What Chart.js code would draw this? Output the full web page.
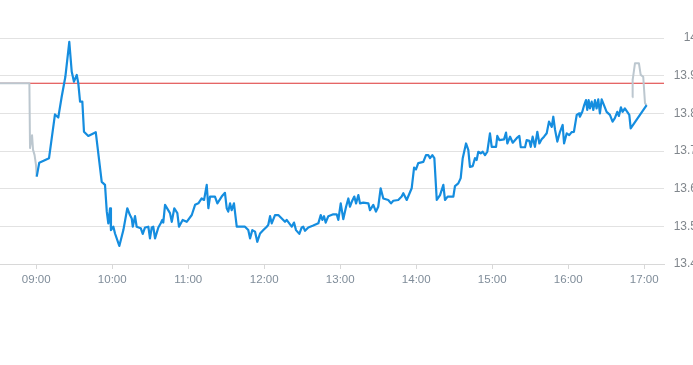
<!DOCTYPE html>
<html>
<head>
<meta charset="utf-8">
<script src="https://cdn.jsdelivr.net/npm/chart.js@4/dist/chart.umd.min.js"></script>
<style>
html, body { margin: 0; padding: 0; overflow: hidden; background: #fff; }
#wrap { width: 697px; height: 365px; }
</style>
</head>
<body>
<div id="wrap"><canvas id="c" width="697" height="365"></canvas></div>
<script>
// Time values are minutes since midnight
const xMin = 511.4;
const xMax = 1035.6;
const hourTicks = [540, 600, 660, 720, 780, 840, 900, 960, 1020];
const yTicks = [13.4, 13.5, 13.6, 13.7, 13.8, 13.9, 14.0];
const prevClose = 13.8799;

// pre-open (grey)
const preTimes  = [511.4, 534.6, 535.1, 536.7, 537.5, 538.7, 539.8, 540.4];
const prePrices = [13.8799, 13.8799, 13.708, 13.742, 13.703, 13.689, 13.663, 13.632];

// main session (blue)
const mainTimes = [
 540.4,542.4,550.1,554.8,557.4,560.1,563.0,566.1,568.0,569.8,572.0,573.2,574.6,576.4,577.7,581.1,587.0,591.7,594.3,595.7,
 596.9,598.3,599.0,600.9,602.2,605.6,608.8,611.9,614.0,615.4,616.2,618.0,619.3,622.5,624.1,625.9,628.5,629.8,631.2,632.4,
 633.8,636.4,638.3,639.5,640.3,641.7,645.6,647.0,649.0,651.4,652.7,655.6,658.8,662.8,665.4,668.0,670.6,672.5,674.6,675.9,
 677.2,681.1,683.0,686.4,689.0,690.4,691.6,693.0,694.3,696.1,698.3,704.8,707.4,708.8,710.6,712.7,714.5,716.7,719.3,722.0,
 723.2,724.6,725.9,728.5,731.1,736.4,737.7,741.7,743.5,745.1,747.7,749.6,750.8,752.2,754.8,758.7,762.7,764.6,765.9,767.2,
 768.5,770.6,774.5,777.2,778.5,780.4,782.4,784.6,786.4,787.7,789.1,791.1,792.5,794.3,795.6,798.2,802.2,803.5,806.1,808.2,
 810.0,811.9,814.0,817.9,820.1,821.9,825.8,828.5,829.8,832.5,836.4,838.3,839.8,841.6,845.6,847.7,849.5,850.9,852.7,854.3,
 856.2,858.8,861.4,862.7,864.8,869.3,870.6,873.2,875.1,876.7,879.3,881.1,882.4,884.6,886.4,887.7,889.0,890.9,892.5,894.3,
 896.1,898.2,899.6,903.0,904.0,905.6,909.3,910.9,911.9,914.1,916.2,919.3,921.4,922.5,925.9,927.2,929.3,930.4,931.9,933.7,
 935.6,937.2,939.0,940.9,943.0,944.8,947.0,948.2,949.6,951.4,953.5,955.6,956.7,958.8,960.8,962.7,964.5,966.7,968.5,969.2,
 971.1,972.6,974.0,975.0,976.1,977.1,978.5,979.8,981.1,982.4,983.7,985.0,986.4,988.2,990.3,992.9,995.0,996.8,998.7,1000.0,
 1001.6,1002.9,1004.7,1006.6,1008.2,1009.3,1021.9
];
const mainPrices = [
 13.632,13.669,13.681,13.797,13.789,13.844,13.897,13.990,13.911,13.884,13.902,13.880,13.831,13.831,13.751,13.740,13.750,13.618,13.610,13.539,
 13.508,13.548,13.490,13.499,13.481,13.448,13.490,13.548,13.530,13.521,13.499,13.527,13.499,13.495,13.480,13.497,13.499,13.468,13.497,13.499,
 13.468,13.497,13.508,13.517,13.510,13.557,13.535,13.512,13.548,13.535,13.499,13.517,13.512,13.530,13.557,13.561,13.574,13.570,13.610,13.548,
 13.579,13.579,13.561,13.579,13.589,13.548,13.539,13.561,13.543,13.561,13.499,13.499,13.490,13.468,13.490,13.486,13.459,13.481,13.490,13.499,
 13.504,13.527,13.508,13.530,13.530,13.512,13.517,13.499,13.510,13.490,13.480,13.497,13.499,13.488,13.497,13.502,13.508,13.530,13.517,13.527,
 13.510,13.527,13.532,13.532,13.517,13.561,13.519,13.552,13.574,13.552,13.565,13.579,13.561,13.583,13.561,13.563,13.561,13.543,13.557,13.539,
 13.552,13.601,13.574,13.570,13.561,13.568,13.570,13.579,13.588,13.570,13.601,13.656,13.651,13.668,13.671,13.689,13.689,13.681,13.689,13.681,
 13.570,13.583,13.610,13.570,13.579,13.579,13.607,13.614,13.628,13.681,13.720,13.703,13.658,13.660,13.681,13.676,13.698,13.694,13.698,13.689,
 13.698,13.747,13.711,13.711,13.740,13.729,13.731,13.749,13.720,13.738,13.722,13.734,13.740,13.710,13.710,13.729,13.727,13.711,13.738,13.711,
 13.751,13.720,13.731,13.738,13.747,13.778,13.764,13.791,13.756,13.725,13.751,13.769,13.720,13.747,13.742,13.750,13.751,13.796,13.800,13.791,
 13.804,13.822,13.835,13.809,13.835,13.813,13.831,13.809,13.835,13.813,13.837,13.800,13.837,13.822,13.804,13.796,13.778,13.787,13.804,13.793,
 13.816,13.804,13.813,13.804,13.796,13.760,13.822
];

// after-hours (grey)
const postTimes  = [1010.6, 1010.6, 1011.1, 1012.7, 1015.8, 1017.2, 1019.2, 1020.6, 1021.7];
const postPrices = [13.843, 13.891, 13.888, 13.933, 13.933, 13.902, 13.897, 13.827, 13.822];

const toPts = (t, p) => t.map((v, i) => ({ x: v, y: p[i] }));
const fmtTime = v => {
  const h = Math.floor(v / 60), m = Math.round(v - h * 60);
  return String(h).padStart(2, '0') + ':' + String(m).padStart(2, '0');
};

new Chart(document.getElementById('c'), {
  type: 'line',
  data: {
    datasets: [
      { data: [{ x: xMin, y: prevClose }, { x: xMax, y: prevClose }], borderColor: '#dd3333', backgroundColor: '#dd3333', borderWidth: 1.2, pointRadius: 0, order: 4 },
      { data: toPts(preTimes, prePrices), borderColor: '#bcc7cf', borderWidth: 2, pointRadius: 0, order: 3 },
      { data: toPts(postTimes, postPrices), borderColor: '#bcc7cf', borderWidth: 2, pointRadius: 0, order: 2 },
      { data: toPts(mainTimes, mainPrices), borderColor: '#158ddf', borderWidth: 2.2, pointRadius: 0, order: 1 }
    ]
  },
  options: {
    responsive: false,
    animation: false,
    devicePixelRatio: 1,
    layout: { padding: { top: 38, left: 0, right: 0, bottom: 0 } },
    plugins: { legend: { display: false }, tooltip: { enabled: false } },
    elements: { line: { tension: 0, borderJoinStyle: 'round' } },
    scales: {
      x: {
        type: 'linear',
        min: xMin,
        max: xMax,
        afterBuildTicks: s => { s.ticks = hourTicks.map(v => ({ value: v })); },
        afterFit: s => { s.height = 101; },
        grid: { drawOnChartArea: false, drawTicks: true, tickLength: 5, color: '#d8d8d8' },
        border: { color: '#d8d8d8' },
        ticks: {
          callback: v => fmtTime(v),
          color: '#7f8c99',
          font: { family: 'Liberation Sans, Arial, sans-serif', size: 11.5 },
          padding: 4,
          maxRotation: 0,
          autoSkip: false
        }
      },
      y: {
        position: 'right',
        min: 13.4,
        max: 14.0,
        afterBuildTicks: s => { s.ticks = yTicks.map(v => ({ value: v })); },
        afterFit: s => { s.width = 33; },
        grid: { color: '#e2e2e2', drawTicks: false },
        border: { display: false },
        ticks: {
          callback: v => String(Number(v.toFixed(1))),
          color: '#80868c',
          font: { family: 'Liberation Sans, Arial, sans-serif', size: 12 },
          padding: 7,
          crossAlign: 'far'
        }
      }
    }
  }
});
</script>
</body>
</html>
